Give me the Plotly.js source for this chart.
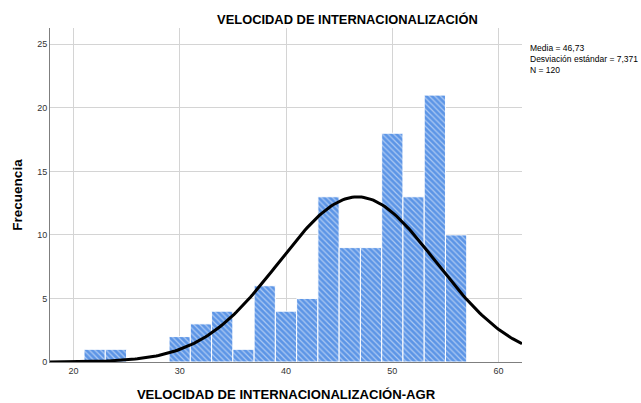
<!DOCTYPE html>
<html><head><meta charset="utf-8">
<script src="https://cdn.plot.ly/plotly-3.0.1.min.js"></script>
<style>html,body{margin:0;padding:0;background:#fff}</style>
</head><body>
<div id="chart" style="width:641px;height:403px"></div>
<script>
const binCenters = [22, 24, 26, 28, 30, 32, 34, 36, 38, 40, 42, 44, 46, 48, 50, 52, 54, 56];
const frequencies = [1, 1, 0, 0, 2, 3, 4, 1, 6, 4, 5, 13, 9, 9, 18, 13, 21, 10];
const binWidth = 2;
const mean = 46.73;
const sd = 7.371;
const n = 120;
const xTicks = [20, 30, 40, 50, 60];
const yTicks = [0, 5, 10, 15, 20, 25];
const xRange = [17.8, 62.2];

const curveX = [], curveY = [];
for (let i = 0; i <= 200; i++) {
  const x = xRange[0] + (xRange[1] - xRange[0]) * i / 200;
  curveX.push(x);
  curveY.push(n * binWidth * Math.exp(-0.5 * ((x - mean) / sd) ** 2) / (sd * Math.sqrt(2 * Math.PI)));
}

const traces = [
  {
    type: 'bar', x: binCenters, y: frequencies, width: binWidth,
    marker: {
      color: '#5c95e6',
      line: {color: '#ffffff', width: 1},
      pattern: {shape: '\\', fgcolor: '#ffffff', size: 4, solidity: 0.3, fillmode: 'overlay'}
    },
    hoverinfo: 'x+y'
  },
  {
    type: 'scatter', mode: 'lines', x: curveX, y: curveY,
    line: {color: '#000000', width: 3}, hoverinfo: 'skip'
  }
];

const layout = {
  width: 641, height: 403,
  margin: {l: 50, r: 119, t: 28, b: 41},
  paper_bgcolor: '#ffffff', plot_bgcolor: '#ffffff',
  showlegend: false,
  bargap: 0,
  font: {family: 'Arial, Liberation Sans, sans-serif', color: '#000'},
  title: {
    text: '<b>VELOCIDAD DE INTERNACIONALIZACIÓN</b>',
    font: {size: 12.9, color: '#000'},
    x: 0.542, xanchor: 'center', y: 0.951, yanchor: 'middle'
  },
  xaxis: {
    range: xRange, tickvals: xTicks, ticktext: xTicks.map(String),
    showgrid: true, gridcolor: '#d4d4d4', gridwidth: 1,
    zeroline: false, showline: true, linecolor: '#7f7f7f', linewidth: 1,
    ticks: '', tickfont: {size: 9, color: '#333'},
    title: {text: '<b>VELOCIDAD DE INTERNACIONALIZACIÓN-AGR</b>', font: {size: 13.1, color: '#000'}, standoff: 15}
  },
  yaxis: {
    range: [0, 26.28], tickvals: yTicks, ticktext: yTicks.map(String),
    showgrid: true, gridcolor: '#d4d4d4', gridwidth: 1,
    zeroline: false, showline: true, linecolor: '#7f7f7f', linewidth: 1,
    ticks: '', tickfont: {size: 9, color: '#333'},
    title: {text: '<b>Frecuencia</b>', font: {size: 13.5, color: '#000'}, standoff: 11}
  },
  annotations: [
    {
      xref: 'paper', yref: 'paper', x: 1.012, y: 0.96, xanchor: 'left', yanchor: 'top',
      align: 'left', showarrow: false,
      text: 'Media = 46,73<br>Desviación estándar = 7,371<br>N = 120',
      font: {size: 8.5, color: '#000'}
    }
  ]
};

Plotly.newPlot('chart', traces, layout, {displayModeBar: false, staticPlot: true});
</script>
</body></html>
